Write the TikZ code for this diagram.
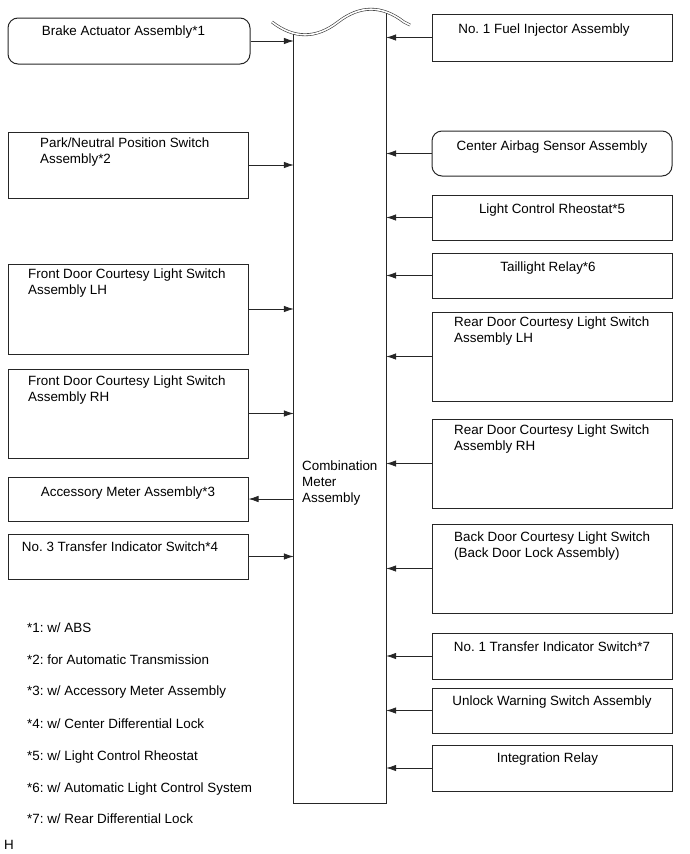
\documentclass[tikz,border=0pt]{standalone}
\usepackage{fontspec}
\setmainfont{Liberation Sans}
\usepackage{tikz}
\usetikzlibrary{positioning,arrows.meta,calc}
\frenchspacing
\tikzset{
  sigarrow/.style={-{Latex[length=10pt,width=6.5pt]}, line width=0.8pt, black!85},
  unitbox/.style={draw=black!85, line width=1pt, minimum width=240pt, inner sep=0pt},
  roundunit/.style={unitbox, rounded corners=10pt},
  boxlabel/.style={inner sep=0pt, align=left, font=\fontsize{13.4}{16}\selectfont},
  fnote/.style={inner sep=0pt, anchor=west, font=\fontsize{13.4}{16}\selectfont}
}
\begin{document}
\begin{tikzpicture}[x=1pt, y=-1pt, >=Latex]
      \useasboundingbox (0,0) rectangle (690,854);
      \node[minimum width=92pt, minimum height=790pt, inner sep=0pt] (meter) at (340,408) {};
      \draw[line width=1pt, black!85] (meter.south west |- 0,33) -- (meter.south west) -- (meter.south east) -- (meter.north east);
      \draw[double, double distance=1.6pt, line width=0.6pt, black!80] (272,22) .. controls (294,39) and (316,39) .. (338,22) .. controls (360,5) and (382,5) .. (404,22) -- (410,25);
      \node[boxlabel, anchor=north west] (meter-lbl) at (302,461) {Combination\\Meter\\Assembly};
      \node[roundunit, minimum width=242pt, minimum height=46pt] (brake) at (129,41) {};
      \node[unitbox, minimum height=66pt] (park) at (128,165) {};
      \node[unitbox, minimum height=90pt] (frontlh) at (128,309) {};
      \node[unitbox, minimum height=89pt] (frontrh) at (128,413.5) {};
      \node[unitbox, minimum height=44pt] (accmeter) at (128,499) {};
      \node[unitbox, minimum height=45pt] (xfer3) at (128,556.5) {};
      \node[unitbox, minimum height=47pt] (fuel) at (552,37.5) {};
      \node[roundunit, minimum height=45pt] (airbag) at (552,153.5) {};
      \node[unitbox, minimum height=45pt] (rheostat) at (552,217.5) {};
      \node[unitbox, minimum height=45pt] (taillight) at (552,275.5) {};
      \node[unitbox, minimum height=89pt] (rearlh) at (552,356.5) {};
      \node[unitbox, minimum height=89pt] (rearrh) at (552,463.5) {};
      \node[unitbox, minimum height=89pt] (backdoor) at (552,568.5) {};
      \node[unitbox, minimum height=46pt] (xfer1) at (552,656) {};
      \node[unitbox, minimum height=45pt] (unlock) at (552,710.5) {};
      \node[unitbox, minimum height=46pt] (integ) at (552,768) {};
      \node[boxlabel] (brake-lbl) at (123.5,32) {Brake Actuator Assembly*1};
      \node[boxlabel, anchor=north west] (park-lbl) at (40,138) {Park/Neutral Position Switch\\Assembly*2};
      \node[boxlabel, anchor=north west] (frontlh-lbl) at (28,269) {Front Door Courtesy Light Switch\\Assembly LH};
      \node[boxlabel, anchor=north west] (frontrh-lbl) at (28,376) {Front Door Courtesy Light Switch\\Assembly RH};
      \node[boxlabel] (accmeter-lbl) at (128,493) {Accessory Meter Assembly*3};
      \node[boxlabel] (xfer3-lbl) at (120,547) {No. 3 Transfer Indicator Switch*4};
      \node[boxlabel] (fuel-lbl) at (544,30) {No. 1 Fuel Injector Assembly};
      \node[boxlabel] (airbag-lbl) at (552,147) {Center Airbag Sensor Assembly};
      \node[boxlabel] (rheostat-lbl) at (552,210) {Light Control Rheostat*5};
      \node[boxlabel] (taillight-lbl) at (548,268) {Taillight Relay*6};
      \node[boxlabel, anchor=north west] (rearlh-lbl) at (454,317) {Rear Door Courtesy Light Switch\\Assembly LH};
      \node[boxlabel, anchor=north west] (rearrh-lbl) at (454,425) {Rear Door Courtesy Light Switch\\Assembly RH};
      \node[boxlabel, anchor=north west] (backdoor-lbl) at (454,532) {Back Door Courtesy Light Switch\\(Back Door Lock Assembly)};
      \node[boxlabel] (xfer1-lbl) at (552,647) {No. 1 Transfer Indicator Switch*7};
      \node[boxlabel] (unlock-lbl) at (552,702) {Unlock Warning Switch Assembly};
      \node[boxlabel] (integ-lbl) at (547.5,759) {Integration Relay};
      \draw[sigarrow] (brake.east) -- (brake.east -| meter.west);
      \draw[sigarrow] (park.east) -- (park.east -| meter.west);
      \draw[sigarrow] (frontlh.east) -- (frontlh.east -| meter.west);
      \draw[sigarrow] (frontrh.east) -- (frontrh.east -| meter.west);
      \draw[sigarrow] (accmeter.east -| meter.west) -- (accmeter.east);
      \draw[sigarrow] (xfer3.east) -- (xfer3.east -| meter.west);
      \draw[sigarrow] (fuel.west) -- (fuel.west -| meter.east);
      \draw[sigarrow] (airbag.west) -- (airbag.west -| meter.east);
      \draw[sigarrow] (rheostat.west) -- (rheostat.west -| meter.east);
      \draw[sigarrow] (taillight.west) -- (taillight.west -| meter.east);
      \draw[sigarrow] (rearlh.west) -- (rearlh.west -| meter.east);
      \draw[sigarrow] (rearrh.west) -- (rearrh.west -| meter.east);
      \draw[sigarrow] (backdoor.west) -- (backdoor.west -| meter.east);
      \draw[sigarrow] (xfer1.west) -- (xfer1.west -| meter.east);
      \draw[sigarrow] (unlock.west) -- (unlock.west -| meter.east);
      \draw[sigarrow] (integ.west) -- (integ.west -| meter.east);
      \node[fnote] (fn1) at (27,628) {*1: w/ ABS};
      \node[fnote] (fn2) at (27,660) {*2: for Automatic Transmission};
      \node[fnote] (fn3) at (27,692) {*3: w/ Accessory Meter Assembly};
      \node[fnote] (fn4) at (27,724) {*4: w/ Center Differential Lock};
      \node[fnote] (fn5) at (27,757) {*5: w/ Light Control Rheostat};
      \node[fnote] (fn6) at (27,789) {*6: w/ Automatic Light Control System};
      \node[fnote] (fn7) at (27,819) {*7: w/ Rear Differential Lock};
      \node[fnote] (figid) at (4,845) {H};
    \end{tikzpicture}
\end{document}
